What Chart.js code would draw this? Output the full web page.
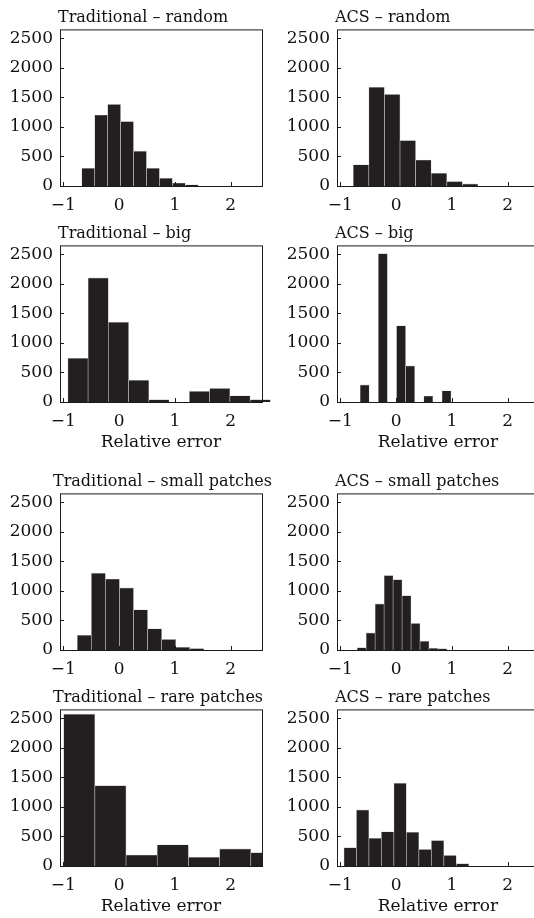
<!DOCTYPE html>
<html>
<head>
<meta charset="utf-8">
<script src="https://cdn.jsdelivr.net/npm/chart.js@4.4.1/dist/chart.umd.min.js"></script>
<style>
  html, body { margin: 0; padding: 0; background: #fff; }
  body { width: 534px; height: 918px; overflow: hidden; position: relative; }
  canvas { position: absolute; }
</style>
</head>
<body>
<canvas id="c1" width="282" height="238" style="left:0px;top:4px"></canvas>
<canvas id="c2" width="272" height="238" style="left:277px;top:4px"></canvas>
<canvas id="c3" width="282" height="238" style="left:0px;top:220px"></canvas>
<canvas id="c4" width="272" height="238" style="left:277px;top:220px"></canvas>
<canvas id="c5" width="282" height="238" style="left:0px;top:468px"></canvas>
<canvas id="c6" width="272" height="238" style="left:277px;top:468px"></canvas>
<canvas id="c7" width="282" height="238" style="left:0px;top:684px"></canvas>
<canvas id="c8" width="272" height="238" style="left:277px;top:684px"></canvas>
<script>
// axis ticks shared by every panel
var xTicks = [-1, 0, 1, 2];
var yTicks = [0, 500, 1000, 1500, 2000, 2500];
var xLabel = 'Relative error';

// bin centres and counts
var tradRandomBins = [-0.554, -0.322, -0.090, 0.142, 0.374, 0.606, 0.838, 1.070, 1.302];
var tradRandomCounts = [300, 1200, 1380, 1090, 590, 300, 130, 50, 20];

var acsRandomBins = [-0.629, -0.350, -0.070, 0.209, 0.489, 0.768, 1.048, 1.327];
var acsRandomCounts = [360, 1670, 1550, 770, 440, 215, 75, 35];

var tradBigBins = [-0.738, -0.375, -0.012, 0.351, 0.714, 1.077, 1.440, 1.803, 2.166, 2.529];
var tradBigCounts = [740, 2100, 1350, 370, 40, 0, 180, 230, 105, 40];

var acsBigBins = [-0.564, -0.401, -0.238, -0.075, 0.088, 0.251, 0.414, 0.577, 0.740, 0.903];
var acsBigCounts = [290, 0, 2510, 0, 1290, 610, 0, 100, 0, 190];

var tradSmallBins = [-0.624, -0.372, -0.120, 0.132, 0.384, 0.636, 0.888, 1.140, 1.392];
var tradSmallCounts = [250, 1300, 1200, 1050, 680, 360, 180, 45, 25];

var acsSmallBins = [-0.618, -0.457, -0.296, -0.135, 0.026, 0.187, 0.348, 0.509, 0.670, 0.831];
var acsSmallCounts = [40, 290, 780, 1260, 1190, 920, 450, 150, 28, 22];

var tradRareBins = [-0.715, -0.156, 0.403, 0.962, 1.521, 2.080, 2.639];
var tradRareCounts = [2570, 1360, 185, 360, 150, 290, 225];

var acsRareBins = [-0.824, -0.600, -0.376, -0.153, 0.071, 0.295, 0.519, 0.743, 0.967, 1.190];
var acsRareCounts = [310, 950, 470, 580, 1400, 570, 280, 430, 180, 40];

Chart.defaults.font.family = "'DejaVu Serif', serif";
Chart.defaults.color = '#111';

// MATLAB-like box with inward ticks, plus the panel title (allowed to run past the box)
var boxTicks = {
  id: 'boxTicks',
  afterDraw: function(chart, args, opts) {
    var ctx = chart.ctx, a = chart.chartArea;
    var x = chart.scales.x, y = chart.scales.y;
    ctx.save();
    ctx.strokeStyle = '#1a1a1a';
    ctx.lineWidth = 1;
    ctx.strokeRect(a.left + 0.5, a.top + 0.5, a.right - a.left, a.bottom - a.top);
    ctx.beginPath();
    x.ticks.forEach(function(t) {
      var px = Math.round(x.getPixelForValue(t.value)) + 0.5;
      ctx.moveTo(px, a.bottom);
      ctx.lineTo(px, a.bottom - 4);
    });
    y.ticks.forEach(function(t) {
      var py = Math.round(y.getPixelForValue(t.value)) + 0.5;
      ctx.moveTo(a.left, py);
      ctx.lineTo(a.left + 4, py);
    });
    ctx.stroke();

    ctx.fillStyle = '#111';
    ctx.font = "16px 'DejaVu Serif', serif";
    ctx.textAlign = 'left';
    ctx.textBaseline = 'middle';
    ctx.fillText(opts.text, a.left - 2 - (opts.shift || 0), a.top - 12);
    ctx.restore();
  }
};

function fmt(v) {
  return v < 0 ? '\u2212' + Math.abs(v) : String(v);
}

function makePanel(id, title, bins, counts, withLabel, noClip, titleShift) {
  var canvas = document.getElementById(id);
  var ctx = canvas.getContext('2d');
  return new Chart(ctx, {
    type: 'bar',
    data: {
      datasets: [{
        data: bins.map(function(b, i) { return {x: b, y: counts[i]}; }),
        backgroundColor: '#231f20',
        borderColor: '#c4c4c4',
        borderWidth: 0.6,
        barPercentage: 1,
        categoryPercentage: 1,
        clip: noClip ? false : undefined
      }]
    },
    options: {
      responsive: false,
      animation: false,
      layout: { padding: { top: 25.4, right: canvas.width - 262, left: 0, bottom: 0 } },
      plugins: {
        legend: { display: false },
        tooltip: { enabled: false },
        title: { display: false },
        boxTicks: { text: title, shift: titleShift }
      },
      scales: {
        x: {
          type: 'linear',
          min: -1.06,
          max: 2.56,
          offset: false,
          grid: { display: false, drawTicks: false },
          border: { display: false },
          afterBuildTicks: function(s) { s.ticks = xTicks.map(function(v) { return {value: v}; }); },
          afterFit: function(s) { s.height = 56; },
          ticks: { padding: 9, maxRotation: 0, font: { size: 17 }, callback: fmt },
          title: {
            display: withLabel,
            text: xLabel,
            font: { size: 17 },
            padding: { top: 0, bottom: 5 }
          }
        },
        y: {
          min: 0,
          max: 2650,
          grid: { display: false, drawTicks: false },
          border: { display: false },
          afterBuildTicks: function(s) { s.ticks = yTicks.map(function(v) { return {value: v}; }); },
          afterFit: function(s) { s.width = 60; },
          ticks: { padding: 7, font: { size: 17 }, callback: fmt }
        }
      }
    },
    plugins: [boxTicks]
  });
}

makePanel('c1', 'Traditional \u2013 random', tradRandomBins, tradRandomCounts, false);
makePanel('c2', 'ACS \u2013 random', acsRandomBins, acsRandomCounts, false);
makePanel('c3', 'Traditional \u2013 big', tradBigBins, tradBigCounts, true, true);
makePanel('c4', 'ACS \u2013 big', acsBigBins, acsBigCounts, true);
makePanel('c5', 'Traditional \u2013 small patches', tradSmallBins, tradSmallCounts, false, false, 5);
makePanel('c6', 'ACS \u2013 small patches', acsSmallBins, acsSmallCounts, false);
makePanel('c7', 'Traditional \u2013 rare patches', tradRareBins, tradRareCounts, true, false, 5);
makePanel('c8', 'ACS \u2013 rare patches', acsRareBins, acsRareCounts, true);
</script>
</body>
</html>
